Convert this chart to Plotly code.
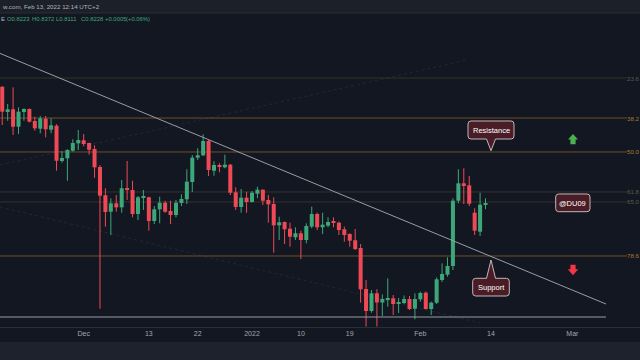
import plotly.graph_objects as go
import pandas as pd

# ---------------- data ----------------
dates = pd.date_range("2021-11-16", periods=90, freq="D")

opens = [1.1015, 1.0416, 1.0480, 1.0067, 1.0416, 1.0487, 1.0202, 1.0020, 1.0257, 0.9996,
         1.0091, 0.9254, 0.9318, 0.9498, 0.9673, 0.9745, 0.9681, 0.9539, 0.9112, 0.8442,
         0.8053, 0.8251, 0.8156, 0.8608, 0.8567, 0.7998, 0.8385, 0.8394, 0.7832, 0.8109,
         0.8266, 0.8069, 0.7975, 0.8259, 0.8347, 0.8757, 0.9333, 0.9389, 0.9728, 0.9024,
         0.9159, 0.9105, 0.9167, 0.8512, 0.8164, 0.8385, 0.8283, 0.8479, 0.8574, 0.8330,
         0.8235, 0.7730, 0.7809, 0.7650, 0.7446, 0.7541, 0.7382, 0.7699, 0.7998, 0.7683,
         0.7722, 0.7809, 0.7792, 0.7636, 0.7524, 0.7375, 0.7192, 0.6220, 0.5699, 0.6119,
         0.5901, 0.5976, 0.6000, 0.5865, 0.5889, 0.5984, 0.5754, 0.5976, 0.6133, 0.5747,
         0.5896, 0.6434, 0.6560, 0.6766, 0.8313, 0.8726, 0.8678, 0.8028, 0.7579, 0.8223]
highs = [1.1022, 1.0605, 1.1001, 1.0527, 1.0503, 1.0499, 1.0304, 1.0321, 1.0321, 1.0266,
         1.0124, 0.9491, 0.9532, 0.9769, 0.9989, 0.9894, 0.9688, 0.9626, 0.9159, 0.8608,
         0.8370, 0.8448, 0.8804, 0.9254, 0.8787, 0.8425, 0.8567, 0.8408, 0.8188, 0.8408,
         0.8313, 0.8313, 0.8330, 0.8465, 0.9058, 0.9396, 0.9555, 0.9887, 0.9752, 0.9247,
         0.9200, 0.9404, 0.9183, 0.8631, 0.8591, 0.8527, 0.8543, 0.8645, 0.8584, 0.8448,
         0.8394, 0.7934, 0.7818, 0.7792, 0.7683, 0.7602, 0.7778, 0.8171, 0.8028, 0.8028,
         0.7920, 0.7920, 0.7818, 0.7697, 0.7541, 0.7643, 0.7287, 0.6434, 0.6197, 0.6214,
         0.6091, 0.6474, 0.6078, 0.6007, 0.6066, 0.6055, 0.6119, 0.6157, 0.6162, 0.5920,
         0.6493, 0.6828, 0.6972, 0.8370, 0.9058, 0.9081, 0.8899, 0.8133, 0.8503, 0.8372]
lows = [1.0107, 1.0209, 0.9870, 0.9894, 1.0209, 1.0167, 0.9972, 0.9911, 0.9816, 0.9911,
        0.9024, 0.9214, 0.8787, 0.9475, 0.9515, 0.9610, 0.9404, 0.8858, 0.5754, 0.7697,
        0.7500, 0.8053, 0.8028, 0.8330, 0.7920, 0.7856, 0.8093, 0.7602, 0.7761, 0.7778,
        0.8028, 0.7761, 0.7920, 0.8188, 0.8235, 0.8520, 0.9278, 0.9373, 0.8899, 0.8906,
        0.8986, 0.9081, 0.8448, 0.8093, 0.8028, 0.8028, 0.8271, 0.8370, 0.8211, 0.7792,
        0.7081, 0.7382, 0.7287, 0.7223, 0.7382, 0.6932, 0.7304, 0.7659, 0.7619, 0.7524,
        0.7683, 0.7683, 0.7500, 0.7342, 0.7223, 0.7145, 0.5896, 0.5332, 0.5659, 0.5332,
        0.5581, 0.5801, 0.5604, 0.5652, 0.5865, 0.5723, 0.5503, 0.5920, 0.5735, 0.5604,
        0.5865, 0.6387, 0.6512, 0.6671, 0.8252, 0.8235, 0.8188, 0.7500, 0.7477, 0.8111]
closes = [1.0423, 1.0480, 1.0067, 1.0423, 1.0487, 1.0186, 1.0029, 1.0266, 1.0006, 1.0100,
          0.9261, 0.9325, 0.9515, 0.9681, 0.9752, 0.9657, 0.9522, 0.9105, 0.8432, 0.8045,
          0.8251, 0.8156, 0.8608, 0.8567, 0.7998, 0.8394, 0.8394, 0.7832, 0.8109, 0.8266,
          0.8052, 0.7975, 0.8266, 0.8354, 0.8764, 0.9333, 0.9389, 0.9728, 0.9041, 0.9159,
          0.9112, 0.9167, 0.8503, 0.8164, 0.8385, 0.8283, 0.8503, 0.8574, 0.8313, 0.8228,
          0.7730, 0.7801, 0.7636, 0.7460, 0.7541, 0.7382, 0.7714, 0.7998, 0.7683, 0.7745,
          0.7809, 0.7785, 0.7619, 0.7500, 0.7365, 0.7169, 0.6213, 0.5699, 0.6119, 0.5901,
          0.5984, 0.6007, 0.5865, 0.5913, 0.5984, 0.5747, 0.5984, 0.6126, 0.5747, 0.5896,
          0.6450, 0.6576, 0.6766, 0.8313, 0.8726, 0.8662, 0.8242, 0.7602, 0.8219, 0.8228]

tick_dates = ["2021-12-01", "2021-12-13", "2021-12-22", "2022-01-01", "2022-01-10",
              "2022-01-19", "2022-02-01", "2022-02-14", "2022-03-01"]
tick_labels = ["Dec", "13", "22", "2022", "10", "19", "Feb", "14", "Mar"]

fib_labels = ["23.6", "38.2", "50.0", "61.8", "65.0", "78.6"]
fib_prices = [1.1221, 1.0273, 0.9468, 0.8520, 0.8283, 0.7003]
fib_strong = [False, True, True, False, False, True]

trend_dates = ["2021-11-15 14:10", "2022-03-07 04:34"]
trend_prices = [1.1804, 0.5865]
hline_dates = ["2021-11-15 14:10", "2022-03-07 04:34"]
hline_prices = [0.5557, 0.5557]
dash_a_dates = ["2021-11-15 14:10", "2022-02-09 14:10"]
dash_a_prices = [0.9159, 1.1648]
dash_b_dates = ["2021-11-15 14:10", "2022-02-11 23:30"]
dash_b_prices = [0.8166, 0.5417]

header_1 = "w.com, Feb 13, 2022 12:14 UTC+2"
header_tokens = ["E", "O0.8223", "H0.8372", "L0.8111", "C0.8228", "+0.0005", "(+0.06%)"]

# ---------------- styling ----------------
BG = "#131722"
UP = "#3da77a"
DOWN = "#ee4a56"
FONT = "Liberation Sans"
W, HP = 640, 327  # figure width, plot-area height in px


def P(x, y):
    return f"{x / W:.5f},{1 - y / HP:.5f}"


def box_path(x0, y0, x1, y1, tip=None, r=3, bw=4.5):
    s = f"M{P(x0 + r, y0)}"
    if tip is not None and tip[1] < y0:
        s += f" L{P(tip[0] - bw, y0)} L{P(tip[0], tip[1])} L{P(tip[0] + bw, y0)}"
    s += f" L{P(x1 - r, y0)} Q{P(x1, y0)} {P(x1, y0 + r)} L{P(x1, y1 - r)} Q{P(x1, y1)} {P(x1 - r, y1)}"
    if tip is not None and tip[1] > y1:
        s += f" L{P(tip[0] + bw, y1)} L{P(tip[0], tip[1])} L{P(tip[0] - bw, y1)}"
    s += f" L{P(x0 + r, y1)} Q{P(x0, y1)} {P(x0, y1 - r)} L{P(x0, y0 + r)} Q{P(x0, y0)} {P(x0 + r, y0)} Z"
    return s


fig = go.Figure()

# wicks
for up in (True, False):
    xs, ys = [], []
    for d, o, h, l, c in zip(dates, opens, highs, lows, closes):
        if (c >= o) == up:
            xs += [d, d, None]
            ys += [l, h, None]
    fig.add_trace(go.Scatter(x=xs, y=ys, mode="lines", line=dict(color=UP if up else DOWN, width=1),
                             hoverinfo="skip", showlegend=False))

# bodies
base = [min(o, c) for o, c in zip(opens, closes)]
height = [max(abs(c - o), 0.0024) for o, c in zip(opens, closes)]
colors = [UP if c >= o else DOWN for o, c in zip(opens, closes)]
fig.add_trace(go.Bar(x=dates, y=height, base=base, width=0.74 * 86400000,
                     marker=dict(color=colors, line=dict(width=0)), showlegend=False,
                     hoverinfo="skip"))

# drawings
fig.add_trace(go.Scatter(x=dash_a_dates, y=dash_a_prices, mode="lines",
                         line=dict(color="rgba(120,123,134,0.16)", width=1, dash="3px,3px"),
                         hoverinfo="skip", showlegend=False))
fig.add_trace(go.Scatter(x=dash_b_dates, y=dash_b_prices, mode="lines",
                         line=dict(color="rgba(120,123,134,0.16)", width=1, dash="3px,3px"),
                         hoverinfo="skip", showlegend=False))
fig.add_trace(go.Scatter(x=trend_dates, y=trend_prices, mode="lines",
                         line=dict(color="#9a9ca6", width=1), hoverinfo="skip", showlegend=False))
fig.add_trace(go.Scatter(x=hline_dates, y=hline_prices, mode="lines",
                         line=dict(color="#9a9ca6", width=1), hoverinfo="skip", showlegend=False))

shapes = []
annotations = []

# header bands
shapes.append(dict(type="rect", xref="paper", yref="paper", x0=0, x1=1, y0=1 - 13 / HP, y1=1,
                   fillcolor="#1c2029", line=dict(width=0), layer="below"))
shapes.append(dict(type="line", xref="paper", yref="paper", x0=0, x1=1, y0=1 - 13 / HP, y1=1 - 13 / HP,
                   line=dict(color="#2a2e39", width=1), layer="below"))
# bottom toolbar band
shapes.append(dict(type="rect", xref="paper", yref="paper", x0=0, x1=1, y0=1 - 360 / HP, y1=1 - 342 / HP,
                   fillcolor="#1e222d", line=dict(width=0), layer="below"))

# fib levels
for lab, pr, strong in zip(fib_labels, fib_prices, fib_strong):
    shapes.append(dict(type="line", xref="paper", yref="y", x0=0, x1=627 / W, y0=pr, y1=pr,
                       line=dict(color="#6e5026" if strong else "#37322a", width=1), layer="below"))
    annotations.append(dict(x=1, y=pr, xref="paper", yref="y", text=lab, showarrow=False,
                            xanchor="right", yanchor="middle", borderpad=0, borderwidth=0,
                            font=dict(family=FONT, size=6.2,
                                      color="#a87a30" if strong else "#5f5a50")))

# callouts
box_style = dict(type="path", xref="paper", yref="paper", fillcolor="#4a1c26",
                 line=dict(color="#c4b6b9", width=1), layer="above")
shapes.append(dict(path=box_path(468, 121, 514, 139, tip=(491, 150.7)), **box_style))
shapes.append(dict(path=box_path(472.7, 278.3, 509.3, 296, tip=(491, 260)), **box_style))
shapes.append(dict(path=box_path(555.7, 194, 590, 211.7), **box_style))
for txt, cx, cy in [("Resistance", 491, 130), ("Support", 491, 287.2), ("@DU09", 572.8, 203)]:
    annotations.append(dict(x=cx / W, y=1 - cy / HP, xref="paper", yref="paper", text=txt,
                            showarrow=False, xanchor="center", yanchor="middle",
                            font=dict(family=FONT, size=7.5, color="#ffffff")))

# arrows
up_arrow = (f"M{P(573, 134)} L{P(578, 139.5)} L{P(575.6, 139.5)} L{P(575.6, 144.3)} "
            f"L{P(570.4, 144.3)} L{P(570.4, 139.5)} L{P(568, 139.5)} Z")
down_arrow = (f"M{P(570.4, 264.8)} L{P(575.6, 264.8)} L{P(575.6, 269.3)} L{P(578.2, 269.3)} "
              f"L{P(573, 275.2)} L{P(567.8, 269.3)} L{P(570.4, 269.3)} Z")
shapes.append(dict(type="path", xref="paper", yref="paper", path=up_arrow, fillcolor="#4caf50",
                   line=dict(width=0), layer="above"))
shapes.append(dict(type="path", xref="paper", yref="paper", path=down_arrow, fillcolor="#f23645",
                   line=dict(width=0), layer="above"))

# header texts
annotations.append(dict(x=0, y=1 - 6.3 / HP, xref="paper", yref="paper", text=header_1, showarrow=False,
                        xanchor="left", yanchor="middle", font=dict(family=FONT, size=6.2, color="#b2b5be")))
token_x = [0, 6, 30.7, 55.3, 80, 104, 125]
for tok, tx in zip(header_tokens, token_x):
    annotations.append(dict(x=tx / W, y=1 - 19.5 / HP, xref="paper", yref="paper", text=tok,
                            showarrow=False, xanchor="left", yanchor="middle", borderpad=0,
                            font=dict(family=FONT, size=5.9,
                                      color="#b2b5be" if tok == "E" else "#3da77a")))

fig.update_layout(
    width=640, height=360,
    margin=dict(l=0, r=0, t=0, b=33),
    paper_bgcolor=BG, plot_bgcolor=BG,
    barmode="overlay", showlegend=False,
    shapes=shapes, annotations=annotations,
    xaxis=dict(type="date", range=["2021-11-15 14:10", "2022-03-13 10:48"],
               tickvals=tick_dates, ticktext=tick_labels, showgrid=False, zeroline=False,
               showline=True, linecolor="#2a2e39", linewidth=1, ticks="",
               tickfont=dict(family=FONT, size=7, color="#a3a6af"), fixedrange=True),
    yaxis=dict(range=[0.5320, 1.3070], visible=False, showgrid=False, fixedrange=True),
)

fig.write_html("out.html", config={"displayModeBar": False},
               post_script="document.body.style.margin='0';document.body.style.background='#131722';")
